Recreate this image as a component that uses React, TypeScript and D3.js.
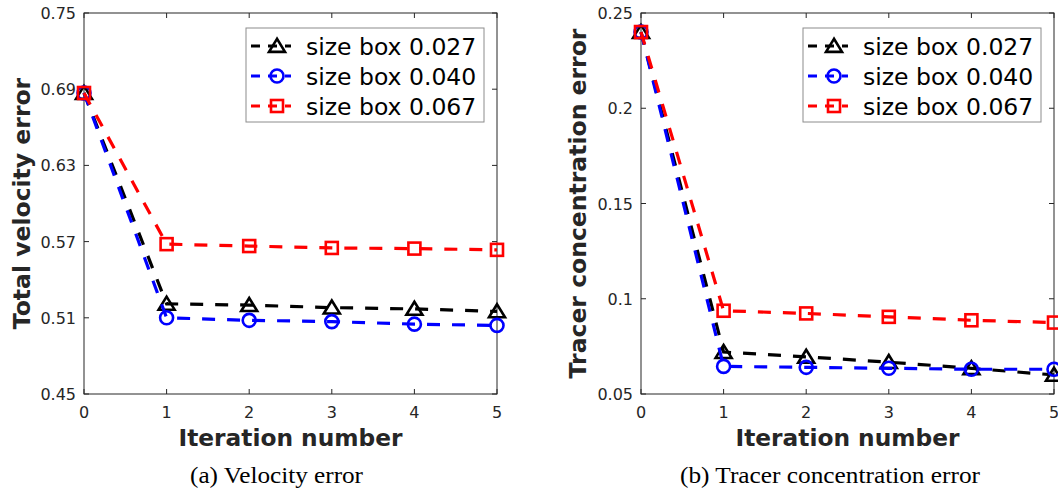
import React from "react";
import * as d3 from "d3";

const iterations = [0, 1, 2, 3, 4, 5];
const xTicks = [0, 1, 2, 3, 4, 5];

const seriesNames = ["size box 0.027", "size box 0.040", "size box 0.067"];
const seriesColors = ["#000000", "#0000ff", "#ff0000"];
const seriesMarkers = ["triangle", "circle", "square"];

const velBlack = [0.687, 0.521, 0.52, 0.518, 0.517, 0.515];
const velBlue = [0.687, 0.51, 0.508, 0.507, 0.505, 0.504];
const velRed = [0.687, 0.568, 0.5665, 0.565, 0.5645, 0.5635];
const velTicks = [0.45, 0.51, 0.57, 0.63, 0.69, 0.75];
const velTickLabels = ["0.45", "0.51", "0.57", "0.63", "0.69", "0.75"];

const trBlack = [0.24, 0.072, 0.0695, 0.0667, 0.0635, 0.06];
const trBlue = [0.24, 0.0645, 0.064, 0.0635, 0.063, 0.063];
const trRed = [0.24, 0.0937, 0.0923, 0.0905, 0.0887, 0.0875];
const trTicks = [0.05, 0.1, 0.15, 0.2, 0.25];
const trTickLabels = ["0.05", "0.1", "0.15", "0.2", "0.25"];

const FONT = "'DejaVu Sans', sans-serif";
const AX = "#262626";

function Marker({ kind, x, y, color }: { kind: string; x: number; y: number; color: string }) {
  const sw = 2.6;
  if (kind === "triangle") {
    const w = 8;
    const h = 13;
    const pts = `${x},${y - h * 0.55} ${x - w},${y + h * 0.45} ${x + w},${y + h * 0.45}`;
    return <polygon points={pts} fill="none" stroke={color} strokeWidth={sw} strokeLinejoin="miter" />;
  }
  if (kind === "circle") {
    return <circle cx={x} cy={y} r={6.5} fill="none" stroke={color} strokeWidth={sw} />;
  }
  return <rect x={x - 6} y={y - 6} width={12} height={12} fill="none" stroke={color} strokeWidth={sw} />;
}

function Panel({
  left,
  series,
  domain,
  ticks,
  tickLabels,
  yTitle,
  caption,
  captionX,
  captionW,
  titleX,
}: {
  left: number;
  series: number[][];
  domain: [number, number];
  ticks: number[];
  tickLabels: string[];
  yTitle: string;
  caption: string;
  captionX: number;
  captionW: number;
  titleX: number;
}) {
  const top = 13;
  const bottom = 394;
  const right = left + 413;
  const x = d3.scaleLinear().domain([0, 5]).range([left, right]);
  const y = d3.scaleLinear().domain(domain).range([bottom, top]);
  const line = d3
    .line<number>()
    .x((_, i) => x(iterations[i]))
    .y((d) => y(d));
  const tl = 5;
  const cx = (left + right) / 2;
  const lgX = left + 162;
  const lgY = 28;
  return (
    <g>
      {xTicks.map((t) => (
        <g key={"xt" + t}>
          <line x1={x(t)} x2={x(t)} y1={bottom} y2={bottom - tl} stroke={AX} strokeWidth={1} />
          <line x1={x(t)} x2={x(t)} y1={top} y2={top + tl} stroke={AX} strokeWidth={1} />
          <text x={x(t)} y={418} textAnchor="middle" fontFamily={FONT} fontSize={16} fill={AX}>
            {t}
          </text>
        </g>
      ))}
      {ticks.map((t, i) => (
        <g key={"yt" + t}>
          <line x1={left} x2={left + tl} y1={y(t)} y2={y(t)} stroke={AX} strokeWidth={1} />
          <line x1={right} x2={right - tl} y1={y(t)} y2={y(t)} stroke={AX} strokeWidth={1} />
          <text x={left - 8} y={y(t) + 6} textAnchor="end" fontFamily={FONT} fontSize={16} fill={AX}>
            {tickLabels[i]}
          </text>
        </g>
      ))}
      <rect x={left} y={top} width={right - left} height={bottom - top} fill="none" stroke={AX} strokeWidth={1} />
      {series.map((s, si) => (
        <g key={"s" + si}>
          <path d={line(s) || ""} fill="none" stroke={seriesColors[si]} strokeWidth={3.2} strokeDasharray="13 12" />
          {s.map((v, i) => (
            <Marker key={i} kind={seriesMarkers[si]} x={x(iterations[i])} y={y(v)} color={seriesColors[si]} />
          ))}
        </g>
      ))}
      <rect x={lgX} y={lgY} width={238} height={94} fill="#ffffff" stroke="#8c8c8c" strokeWidth={1} />
      {seriesNames.map((n, i) => {
        const ry = 46 + i * 30;
        return (
          <g key={"lg" + i}>
            <line x1={lgX + 5} x2={lgX + 45} y1={ry} y2={ry} stroke={seriesColors[i]} strokeWidth={3.2} strokeDasharray="9 8" />
            <Marker kind={seriesMarkers[i]} x={lgX + 31} y={ry} color={seriesColors[i]} />
            <text x={lgX + 60} y={ry + 8.5} fontFamily={FONT} fontSize={23.5} fill="#000">
              {n}
            </text>
          </g>
        );
      })}
      <text x={cx} y={446} textAnchor="middle" fontFamily={FONT} fontWeight="bold" fontSize={23.3} fill={AX}>
        Iteration number
      </text>
      <text
        transform={`translate(${titleX},${(top + bottom) / 2}) rotate(-90)`}
        textAnchor="middle"
        dominantBaseline="central"
        fontFamily={FONT}
        fontWeight="bold"
        fontSize={23.5}
        fill={AX}
      >
        {yTitle}
      </text>
      <text
        x={captionX}
        y={483}
        fontFamily="'Liberation Serif', serif"
        fontSize={24}
        textLength={captionW}
        lengthAdjust="spacingAndGlyphs"
        fill="#000"
      >
        {caption}
      </text>
    </g>
  );
}

export default function App() {
  return (
    <svg
      width={1058}
      height={493}
      style={{ position: "absolute", left: 0, top: 0, background: "#fff" }}
      xmlns="http://www.w3.org/2000/svg"
    >
      <rect x={0} y={0} width={1058} height={493} fill="#fff" />
      <Panel
        left={84}
        series={[velBlack, velBlue, velRed]}
        domain={[0.45, 0.75]}
        ticks={velTicks}
        tickLabels={velTickLabels}
        yTitle="Total velocity error"
        caption="(a) Velocity error"
        captionX={190}
        captionW={173}
        titleX={22}
      />
      <Panel
        left={641}
        series={[trBlack, trBlue, trRed]}
        domain={[0.05, 0.25]}
        ticks={trTicks}
        tickLabels={trTickLabels}
        yTitle="Tracer concentration error"
        caption="(b) Tracer concentration error"
        captionX={680}
        captionW={300}
        titleX={578}
      />
    </svg>
  );
}
